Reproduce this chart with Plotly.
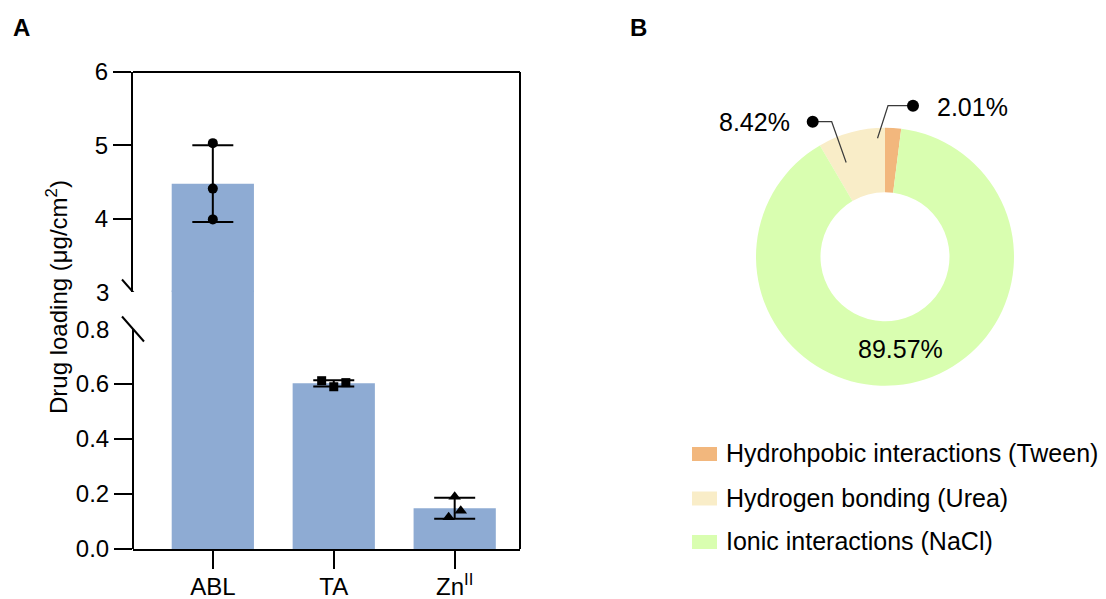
import numpy as np
import plotly.graph_objects as go

# ---------------- data ----------------
categories = ["ABL", "TA", "Zn<sup>II</sup>"]
abl_reps = [5.03, 4.41, 3.99]
ta_reps = [0.612, 0.590, 0.605]
zn_reps = [0.190, 0.139, 0.115]
rep_offsets = [[0.0, 0.0, 0.0], [-0.10, 0.0, 0.10], [0.0, 0.05, -0.05]]
rep_symbols = ["circle", "square", "triangle-up"]
rep_sizes = [10, 9, 11]

lower_ticks = [0.0, 0.2, 0.4, 0.6]
lower_ticktext = ["0.0", "0.2", "0.4", "0.6"]
upper_ticks = [4, 5, 6]
break_low, break_high = 0.8, 3

pie_labels = ["Hydrohpobic interactions (Tween)", "Hydrogen bonding (Urea)", "Ionic interactions (NaCl)"]
pie_values = [2.01, 8.42, 89.57]
pie_colors = ["#F2B77D", "#F9EDC8", "#D9FEB0"]

# ---------------- layout helpers ----------------
W, H = 1106, 599
def px(x):
    return x / W
def py(y):
    return 1 - y / H

FONT = "Liberation Sans, Arial, sans-serif"
FS = 24
FS2 = 25
BAR_COLOR = "#8EABD3"

# left panel geometry (pixels)
L, R = 133, 520
BOTTOM, BREAK, TOP = 549, 292, 72
LOWER_TOP = BREAK - 1.5  # small overlap so the broken bar has no seam
LOWER_PX_PER_UNIT = 275.0
lower_top_val = (BOTTOM - LOWER_TOP) / LOWER_PX_PER_UNIT

reps = [abl_reps, ta_reps, zn_reps]
means = [float(np.mean(r)) for r in reps]
sds = [float(np.std(r, ddof=1)) for r in reps]
xs = list(range(len(categories)))

fig = go.Figure()

# bars drawn in both segments of the broken axis
for ya in ["y", "y2"]:
    fig.add_trace(go.Bar(x=xs, y=means, width=0.68, marker=dict(color=BAR_COLOR, line=dict(width=0)),
                         xaxis="x", yaxis=ya, showlegend=False, hoverinfo="skip"))

# error bars + replicate points
for i, r in enumerate(reps):
    ya = "y2" if means[i] > break_low else "y"
    fig.add_trace(go.Scatter(x=[xs[i]], y=[means[i]], mode="markers",
                             marker=dict(size=1, color="rgba(0,0,0,0)"),
                             error_y=dict(type="data", array=[sds[i]], visible=True,
                                          color="black", thickness=2, width=20.5),
                             xaxis="x", yaxis=ya, showlegend=False, hoverinfo="skip"))
for i, r in enumerate(reps):
    ya = "y2" if means[i] > break_low else "y"
    fig.add_trace(go.Scatter(x=[xs[i] + o for o in rep_offsets[i]], y=r, mode="markers",
                             marker=dict(symbol=rep_symbols[i], size=rep_sizes[i], color="black",
                                         line=dict(width=0)),
                             xaxis="x", yaxis=ya, showlegend=False, hoverinfo="skip",
                             cliponaxis=False))

# donut
fig.add_trace(go.Pie(values=pie_values, labels=pie_labels, hole=0.5, sort=False,
                     direction="counterclockwise", rotation=0, textinfo="none",
                     marker=dict(colors=pie_colors, line=dict(width=0)),
                     domain=dict(x=[px(756), px(1014)], y=[py(386), py(127.5)]),
                     showlegend=False, hoverinfo="label+value"))

axis_common = dict(showgrid=False, zeroline=False, ticks="outside", ticklen=18, tickwidth=2,
                   tickcolor="black", automargin=False,
                   tickfont=dict(family=FONT, size=FS, color="black"))

fig.update_layout(
    width=W, height=H, margin=dict(l=0, r=0, t=0, b=0, autoexpand=False),
    paper_bgcolor="white", plot_bgcolor="rgba(0,0,0,0)",
    barmode="overlay",
    font=dict(family=FONT, size=FS, color="black"),
    xaxis=dict(domain=[px(L), px(R)], range=[-0.66, 2.54], anchor="y",
               tickvals=xs, ticktext=categories, showline=True, linewidth=2, linecolor="black",
               ticklabelstandoff=-3, **axis_common),
    yaxis=dict(domain=[py(BOTTOM), py(LOWER_TOP)], range=[0, lower_top_val], anchor="x",
               tickvals=lower_ticks, ticktext=lower_ticktext, showline=False, **axis_common),
    yaxis2=dict(domain=[py(BREAK), py(TOP)], range=[break_high, 6], anchor="x",
                tickvals=upper_ticks, showline=True, linewidth=2, linecolor="black", **axis_common),
)

shapes = []
line_k = dict(color="black", width=2)
# lower segment of left spine
shapes.append(dict(type="line", xref="paper", yref="y", x0=px(L), x1=px(L), y0=0, y1=break_low, line=line_k))
# frame top and right
shapes.append(dict(type="line", xref="paper", yref="paper", x0=px(L), x1=px(R), y0=py(TOP), y1=py(TOP), line=line_k))
shapes.append(dict(type="line", xref="paper", yref="paper", x0=px(R), x1=px(R), y0=py(TOP), y1=py(BOTTOM), line=line_k))
# break slashes
for yref, yv in [("y2", break_high), ("y", break_low)]:
    shapes.append(dict(type="line", xref="paper", xsizemode="pixel", xanchor=px(L), x0=-11, x1=11,
                       yref=yref, ysizemode="pixel", yanchor=yv, y0=12.5, y1=-12.5, line=line_k))

# donut leader lines computed from slice mid-angles
cx, cy, rad = 885, 256.7, 129
cum = np.cumsum([0] + pie_values)
leader = {0: dict(frac=0.92, elbow=(888, 105.7), dot=(913, 105.7)),
          1: dict(frac=0.79, elbow=(831.7, 121.7), dot=(812.7, 121.7))}
for idx, st in leader.items():
    mid = np.deg2rad(90 + 360 * (cum[idx] + pie_values[idx] / 2) / 100)
    ex = cx + st["frac"] * rad * np.cos(mid)
    ey = cy - st["frac"] * rad * np.sin(mid)
    pts = [st["dot"], st["elbow"], (ex, ey)]
    path = "M " + " L ".join(f"{px(a):.5f},{py(b):.5f}" for a, b in pts)
    shapes.append(dict(type="path", xref="paper", yref="paper", path=path,
                       line=dict(color="#3a3a3a", width=1.2)))
    dx, dy = st["dot"]
    shapes.append(dict(type="circle", xref="paper", yref="paper", xsizemode="pixel", ysizemode="pixel",
                       xanchor=px(dx), yanchor=py(dy), x0=-6, x1=6, y0=-6, y1=6,
                       fillcolor="black", line=dict(width=0)))

# manual legend swatches
legend_rows = [454, 498.5, 542]
for i, yrow in enumerate(legend_rows):
    shapes.append(dict(type="rect", xref="paper", yref="paper", x0=px(692), x1=px(717),
                       y0=py(yrow + 7), y1=py(yrow - 7), fillcolor=pie_colors[i], line=dict(width=0)))

annotations = []
def ann(text, x, y, xanchor="center", yanchor="middle", size=FS, **kw):
    annotations.append(dict(text=text, x=px(x), y=py(y), xref="paper", yref="paper", showarrow=False,
                            xanchor=xanchor, yanchor=yanchor,
                            font=dict(family=FONT, size=size, color="black"), **kw))

ann("<b>A</b>", 21.7, 27)
ann("<b>B</b>", 638.3, 27)
ann("Drug loading (μg/cm<sup>2</sup>)", 57, 297, textangle=-90)
# break tick labels (no tick marks)
annotations.append(dict(text=str(break_high), x=px(111), y=break_high, xref="paper", yref="y2",
                        showarrow=False, xanchor="right", yanchor="middle",
                        font=dict(family=FONT, size=FS, color="black")))
annotations.append(dict(text=f"{break_low:.1f}", x=px(111), y=break_low, xref="paper", yref="y",
                        showarrow=False, xanchor="right", yanchor="middle",
                        font=dict(family=FONT, size=FS, color="black")))
# pie percentages
pct = [f"{v:.2f}%" for v in pie_values]
ann(pct[0], 935, 106.7, xanchor="left", size=FS2)
ann(pct[1], 792, 122.3, xanchor="right", size=FS2)
ann(pct[2], 900, 349, size=FS2)
# legend text
for i, yrow in enumerate(legend_rows):
    ann(pie_labels[i], 724, yrow - 1, xanchor="left", size=FS2)

fig.update_layout(shapes=shapes, annotations=annotations)

fig.write_html("out.html", config={"displayModeBar": False},
               post_script="document.body.style.margin='0';document.body.style.overflow='hidden';")
